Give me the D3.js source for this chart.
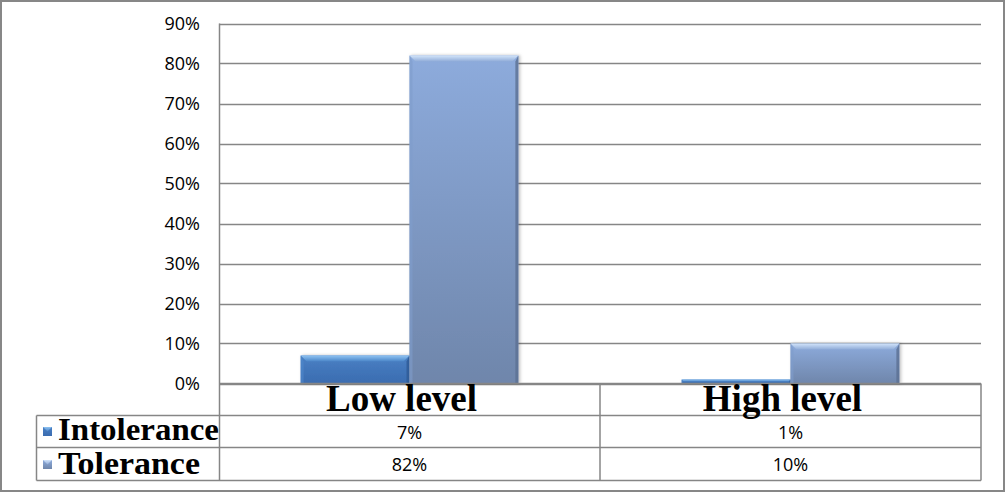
<!DOCTYPE html>
<html><head><meta charset="utf-8">
<script src="https://cdn.jsdelivr.net/npm/d3@7"></script>
<style>html,body{margin:0;padding:0;background:#fff;}svg{display:block;}</style>
</head><body>
<svg id="c" width="1006" height="493"></svg>
<script>
const categories = ["Low level", "High level"];
const seriesNames = ["Intolerance", "Tolerance"];
const intolerance = [0.07, 0.01];
const tolerance = [0.82, 0.10];
const tickValues = [0, 0.1, 0.2, 0.3, 0.4, 0.5, 0.6, 0.7, 0.8, 0.9];
const intoleranceLabels = ["7%", "1%"];
const toleranceLabels = ["82%", "10%"];

const seriesValues = [intolerance, tolerance];
const seriesLabels = [intoleranceLabels, toleranceLabels];

const svg = d3.select("#c");
const W = 1006, H = 493;
const L = 219, R = 981, T = 23.5, B = 383.5;
const rowY = [383.5, 415.5, 447.5, 480.5];
const tableLeft = 36.5;
const grid = "#868686";

const defs = svg.append("defs");
function grad(id, stops, vertical=true){
  const g = defs.append("linearGradient").attr("id", id)
    .attr("x1",0).attr("y1",0).attr("x2", vertical?0:1).attr("y2", vertical?1:0);
  stops.forEach(s => g.append("stop").attr("offset", s[0]).attr("stop-color", s[1]));
}
grad("g0", [[0,"#4a80c4"],[1,"#3a6cb0"]]);
grad("g1", [[0,"#8dabdc"],[1,"#6f86ab"]]);
grad("h0", [[0,"#8fc3f2"],[1,"#4a85c8"]]);
grad("h1", [[0,"#d2e4fa"],[1,"#90acd8"]]);
const filt = defs.append("filter").attr("id","sh").attr("x","-10%").attr("y","-10%").attr("width","130%").attr("height","130%");
filt.append("feDropShadow").attr("dx",1.5).attr("dy",0).attr("stdDeviation",1.5).attr("flood-color","#000").attr("flood-opacity",0.25);

// outer border
svg.append("rect").attr("x",1).attr("y",1).attr("width",W-3).attr("height",H-3)
  .attr("fill","#fff").attr("stroke","#878787").attr("stroke-width",2);

const y = d3.scaleLinear().domain([0, 0.9]).range([B, T]);
const x0 = d3.scaleBand().domain(categories).range([L, R]).padding(0);
const x1 = d3.scaleBand().domain(seriesNames).range([0, x0.bandwidth()]).paddingInner(0).paddingOuter(0.75);

// gridlines
svg.append("g").selectAll("line").data(tickValues).join("line")
  .attr("x1", L).attr("x2", R)
  .attr("y1", d => Math.round(y(d))+0.5).attr("y2", d => Math.round(y(d))+0.5)
  .attr("stroke", grid).attr("stroke-width", 1.3);

// y axis
const yAxis = d3.axisLeft(y).tickValues(tickValues).tickFormat(d3.format(".0%")).tickSize(0).tickPadding(19);
const ya = svg.append("g").attr("transform", `translate(${L},0)`).call(yAxis);
ya.select(".domain").remove();
ya.selectAll("text").attr("font-family","Open Sans").attr("font-size",18).attr("fill","#000").attr("dy","0.36em");

// bars
const bars = svg.append("g");
seriesNames.forEach((s, si) => {
  categories.forEach((c, ci) => {
    const v = seriesValues[si][ci];
    const bx = x0(c) + x1(s), bw = x1.bandwidth();
    const by = y(v), bh = y(0) - y(v);
    const g = bars.append("g").attr("filter","url(#sh)");
    g.append("rect").attr("x", bx).attr("y", by).attr("width", bw).attr("height", bh)
      .attr("fill", `url(#g${si})`);
    const bev = Math.min(6, bh/2);
    g.append("path").attr("d", `M${bx},${by}L${bx+bw},${by}L${bx+bw-bev},${by+bev}L${bx+bev},${by+bev}Z`)
      .attr("fill", `url(#h${si})`);
    g.append("path").attr("d", `M${bx},${by}L${bx+bev/2},${by+bev}L${bx+bev/2},${by+bh}L${bx},${by+bh}Z`)
      .attr("fill", si===0 ? "#5089cc" : "#7f9ccb").attr("opacity",0.6);
    g.append("path").attr("d", `M${bx+bw},${by}L${bx+bw-bev/2},${by+bev}L${bx+bw-bev/2},${by+bh}L${bx+bw},${by+bh}Z`)
      .attr("fill", si===0 ? "#2d5a96" : "#5b6f92").attr("opacity",0.8);
  });
});

// table lines
const tl = svg.append("g").attr("stroke", grid).attr("stroke-width", 1.5).attr("fill","none");
tl.append("line").attr("x1", L).attr("x2", R).attr("y1", rowY[0]).attr("y2", rowY[0]);
[1,2,3].forEach(i => tl.append("line").attr("x1", tableLeft).attr("x2", R).attr("y1", rowY[i]).attr("y2", rowY[i]));
tl.append("line").attr("x1", L+0.5).attr("x2", L+0.5).attr("y1", T).attr("y2", rowY[3]);
tl.append("line").attr("x1", tableLeft).attr("x2", tableLeft).attr("y1", rowY[1]).attr("y2", rowY[3]);
tl.append("line").attr("x1", x0(categories[1])).attr("x2", x0(categories[1])).attr("y1", rowY[0]).attr("y2", rowY[3]);
tl.append("line").attr("x1", R).attr("x2", R).attr("y1", rowY[0]).attr("y2", rowY[3]);

// category labels
svg.append("g").selectAll("text").data(categories).join("text")
  .attr("x", d => x0(d) + x0.bandwidth()/2).attr("y", 411).attr("dx", -8)
  .attr("text-anchor","middle").attr("font-family","Liberation Serif").attr("font-weight","bold")
  .attr("font-size",37).attr("fill","#000").text(d => d);

// value rows + legend keys
seriesNames.forEach((s, si) => {
  svg.append("g").selectAll("text").data(categories).join("text")
    .attr("x", d => x0(d) + x0.bandwidth()/2).attr("y", si===0 ? 439 : 471)
    .attr("text-anchor","middle").attr("font-family","Open Sans").attr("font-size",18).attr("fill","#000")
    .text((d, ci) => seriesLabels[si][ci]);
  const ky = si===0 ? 427 : 460;
  const kg = svg.append("g");
  kg.append("rect").attr("x",43).attr("y",ky).attr("width",9).attr("height",9).attr("fill",`url(#g${si})`);
  kg.append("path").attr("d",`M43,${ky}L52,${ky}L47.5,${ky+4.5}Z`).attr("fill",`url(#h${si})`);
  svg.append("text").attr("x",58).attr("y", si===0 ? 440 : 474)
    .attr("font-family","Liberation Serif").attr("font-weight","bold").attr("font-size",31).attr("fill","#000")
    .attr("textLength", si===0 ? 161 : 142).attr("lengthAdjust","spacingAndGlyphs")
    .text(s);
});
</script>
</body></html>
